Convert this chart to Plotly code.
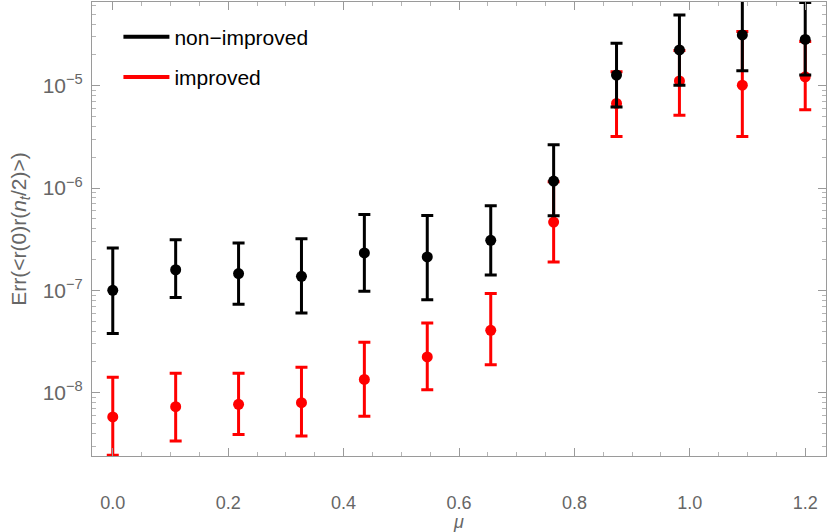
import numpy as np
import plotly.graph_objects as go

# mu values (12 points, step 1.2/11)
mu = [0.0, 0.109, 0.218, 0.327, 0.436, 0.545, 0.655, 0.764, 0.873, 0.982, 1.091, 1.2]

# non-improved: value, upper end, lower end of error bar
nonimp_val = [1.0e-7, 1.59e-7, 1.46e-7, 1.37e-7, 2.32e-7, 2.12e-7, 3.08e-7, 1.17e-6, 1.27e-5, 2.23e-5, 3.13e-5, 2.83e-5]
nonimp_hi = [2.6e-7, 3.12e-7, 2.9e-7, 3.2e-7, 5.5e-7, 5.4e-7, 6.7e-7, 2.64e-6, 2.6e-5, 4.9e-5, 6.8e-5, 6.5e-5]
nonimp_lo = [3.8e-8, 8.5e-8, 7.3e-8, 6.0e-8, 9.8e-8, 8.1e-8, 1.41e-7, 5.35e-7, 6.2e-6, 1.01e-5, 1.4e-5, 1.27e-5]

# improved
imp_val = [5.8e-9, 7.3e-9, 7.7e-9, 8.0e-9, 1.35e-8, 2.24e-8, 4.07e-8, 4.65e-7, 6.7e-6, 1.11e-5, 1.01e-5, 1.22e-5]
imp_hi = [1.42e-8, 1.55e-8, 1.55e-8, 1.77e-8, 3.11e-8, 4.8e-8, 9.3e-8, 1.15e-6, 1.37e-5, 2.2e-5, 3.37e-5, 2.7e-5]
imp_lo = [2.45e-9, 3.37e-9, 3.9e-9, 3.77e-9, 5.9e-9, 1.07e-8, 1.88e-8, 1.89e-7, 3.18e-6, 5.14e-6, 3.18e-6, 5.8e-6]

ytick_vals = [1e-8, 1e-7, 1e-6, 1e-5]
ytick_text = ["10<sup>\u22128</sup>", "10<sup>\u22127</sup>", "10<sup>\u22126</sup>", "10<sup>\u22125</sup>"]
xtick_vals = [0.0, 0.2, 0.4, 0.6, 0.8, 1.0, 1.2]

GRAY = "#666666"
FRAME = "#9a9a9a"
FONT = "Liberation Sans, Arial, sans-serif"


def add_series(fig, val, hi, lo, color):
    val = np.array(val)
    fig.add_trace(go.Scatter(
        x=mu, y=val, mode="markers",
        marker=dict(color=color, size=11),
        error_y=dict(type="data", symmetric=False,
                     array=np.array(hi) - val, arrayminus=val - np.array(lo),
                     color=color, thickness=3, width=6),
        showlegend=False, cliponaxis=True,
    ))


fig = go.Figure()
add_series(fig, imp_val, imp_hi, imp_lo, "#ff0000")
add_series(fig, nonimp_val, nonimp_hi, nonimp_lo, "#000000")

# legend entries drawn as plain lines
fig.add_trace(go.Scatter(x=[None], y=[None], mode="lines", line=dict(color="#000000", width=4),
                         name="non\u2212improved", legendgroup="a"))
fig.add_trace(go.Scatter(x=[None], y=[None], mode="lines", line=dict(color="#ff0000", width=4),
                         name="improved", legendgroup="b"))

minor_y = [m * 10.0 ** e for e in range(-9, -4) for m in range(2, 10)]

fig.update_layout(
    width=830, height=532,
    margin=dict(l=92, r=4, t=2, b=76),
    plot_bgcolor="white", paper_bgcolor="white",
    font=dict(family=FONT, color=GRAY, size=17),
    legend=dict(x=0.036, y=0.968, xanchor="left", yanchor="top",
                font=dict(size=21, color="#000000"), tracegroupgap=10,
                bgcolor="rgba(0,0,0,0)", itemwidth=46),
    xaxis=dict(
        range=[-0.036, 1.236], tickvals=xtick_vals, ticktext=["%.1f" % v for v in xtick_vals],
        ticks="inside", ticklen=8, tickcolor=FRAME, tickwidth=1,
        showline=True, linecolor=FRAME, linewidth=1, mirror="ticks",
        showgrid=False, zeroline=False, automargin=False,
        ticklabelstandoff=30,
        minor=dict(tickvals=[round(0.05 * i, 2) for i in range(0, 25)], ticks="inside",
                   ticklen=4, tickcolor="#b5b5b5", showgrid=False),
        title=dict(text="<i>\u03bc</i>", font=dict(size=18, color=GRAY), standoff=4),
        tickfont=dict(size=18, color=GRAY),
    ),
    yaxis=dict(
        type="log", range=[-8.618, -4.183],
        tickvals=ytick_vals, ticktext=ytick_text,
        ticks="inside", ticklen=8, tickcolor=FRAME, tickwidth=1,
        showline=True, linecolor=FRAME, linewidth=1, mirror="ticks",
        showgrid=False, zeroline=False, automargin=False,
        ticklabelstandoff=4,
        minor=dict(tickvals=minor_y, ticks="inside", ticklen=4, tickcolor="#b5b5b5", showgrid=False),
        title=dict(text="Err(&lt;r(0)r(<i>n</i><sub><i>t</i></sub>/2)&gt;)", font=dict(size=21, color=GRAY),
                   standoff=10),
        tickfont=dict(size=21, color=GRAY),
    ),
)

fig.write_html("out.html", config={"displayModeBar": False},
               post_script="document.body.style.margin='0px';")
